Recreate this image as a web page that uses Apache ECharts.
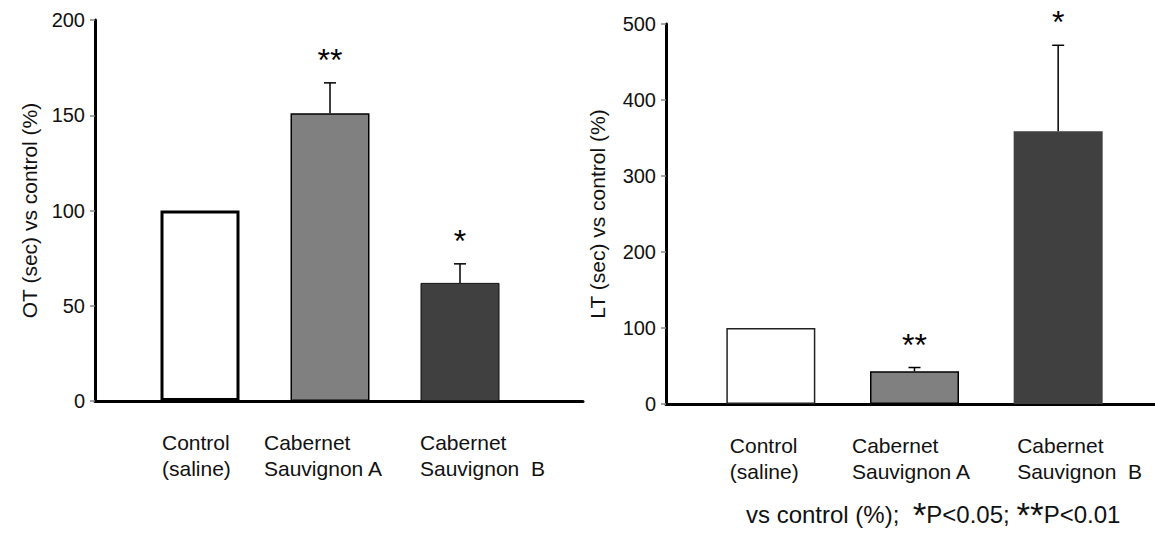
<!DOCTYPE html>
<html>
<head>
<meta charset="utf-8">
<script src="https://cdn.jsdelivr.net/npm/echarts@6/dist/echarts.min.js"></script>
<style>html,body{margin:0;padding:0;background:#fff;}#c{width:1155px;height:533px;}</style>
</head>
<body>
<div id="c"></div>
<script>
// ---- data ----
const categories = ['Control\n(saline)', 'Cabernet\nSauvignon A', 'Cabernet\nSauvignon  B'];
const otValues = [100, 151, 62];
const otErrors = [0, 16, 10];
const otSig = ['', '**', '*'];
const ltValues = [100, 43, 359];
const ltErrors = [0, 5, 113];
const ltSig = ['', '**', '*'];
const otTicks = {min: 0, max: 200, interval: 50};
const ltTicks = {min: 0, max: 500, interval: 100};
const otName = 'OT (sec) vs control (%)';
const ltName = 'LT (sec) vs control (%)';
const footnote = ['vs control (%);  ', '*', 'P<0.05; ', '**', 'P<0.01'];

// ---- styles ----
const FONT = 'Liberation Sans, Arial, sans-serif';
const fills = ['#ffffff', '#808080', '#404040'];
const leftBorders = [{c:'#000', w:3}, {c:'#000', w:1.5}, {c:'#111', w:1}];
const rightBorders = [{c:'#222', w:1.5}, {c:'#000', w:1.5}, {c:'#404040', w:0}];
const leftLabelW = [76, 132, 80];
const rightLabelW = [82, 125, 82];

function richFor(widths) {
  const r = {};
  widths.forEach((w, i) => { r['c' + i] = {width: w, align: 'left', fontSize: 21, fontFamily: FONT, color: '#111', lineHeight: 26}; });
  return r;
}
function fmt(val, idx) {
  return val.split('\n').map(s => '{c' + idx + '|' + s + '}').join('\n');
}

function axesPair(gridIdx, ticks, name, nameGap) {
  return {
    x: {gridIndex: gridIdx, type: 'value', min: 0, max: 1, axisLine: {show: true, onZero: false, lineStyle: {color: '#000', width: 3}},
        axisTick: {show: false}, axisLabel: {show: false}, splitLine: {show: false}},
    y: {gridIndex: gridIdx, type: 'value', min: ticks.min, max: ticks.max, interval: ticks.interval,
        axisLine: {show: true, lineStyle: {color: '#000', width: 3}},
        axisTick: {show: true, length: 5, lineStyle: {color: '#888', width: 1.5}},
        axisLabel: {fontSize: 20, fontFamily: FONT, color: '#111', margin: 10},
        splitLine: {show: false},
        name: name, nameLocation: 'middle', nameGap: nameGap, nameRotate: 90,
        nameTextStyle: {fontSize: 21, fontFamily: FONT, color: '#111'}}
  };
}
function barAxes(gridIdx, ticks, widths) {
  return {
    x: {gridIndex: gridIdx, type: 'category', data: categories, axisLine: {show: false}, axisTick: {show: false},
        axisLabel: {formatter: fmt, rich: richFor(widths), margin: 28, interval: 0}},
    y: {gridIndex: gridIdx, type: 'value', min: ticks.min, max: ticks.max, interval: ticks.interval, show: false}
  };
}

const la = axesPair(0, otTicks, otName, 55);
const lb = barAxes(1, otTicks, leftLabelW);
const ra = axesPair(2, ltTicks, ltName, 58);
const rb = barAxes(3, ltTicks, rightLabelW);

function barSeries(xi, values, borders, bw) {
  return {
    type: 'bar', xAxisIndex: xi, yAxisIndex: xi, barWidth: bw, z: 2,
    data: values.map((v, i) => ({value: v, itemStyle: {color: fills[i], borderColor: borders[i].c, borderWidth: borders[i].w}}))
  };
}
function errSeries(xi, values, errors, sig) {
  return {
    type: 'custom', xAxisIndex: xi, yAxisIndex: xi, z: 3,
    data: values.map((v, i) => [i, v, errors[i]]),
    renderItem: function (params, api) {
      const i = api.value(0), v = api.value(1), e = api.value(2);
      const s = sig[i];
      const p0 = api.coord([i, v]);
      const p1 = api.coord([i, v + e]);
      const children = [];
      if (e > 0) {
        children.push({type: 'line', shape: {x1: p0[0], y1: p0[1], x2: p1[0], y2: p1[1]}, style: {stroke: '#000', lineWidth: 1.5}});
        children.push({type: 'line', shape: {x1: p1[0] - 6, y1: p1[1], x2: p1[0] + 6, y2: p1[1]}, style: {stroke: '#000', lineWidth: 1.5}});
      }
      if (s) {
        children.push({type: 'text', x: p1[0], y: p1[1] - 23, style: {text: s, fontSize: 32, fontFamily: FONT, fill: '#000', align: 'center', verticalAlign: 'middle'}});
      }
      return {type: 'group', children: children};
    }
  };
}

const option = {
  animation: false,
  backgroundColor: '#fff',
  grid: [
    {left: 95, top: 20, width: 488, height: 381},
    {left: 135, top: 20, width: 390, height: 381},
    {left: 666, top: 24, width: 489, height: 380},
    {left: 699, top: 24, width: 431, height: 380}
  ],
  xAxis: [la.x, lb.x, ra.x, rb.x],
  yAxis: [la.y, lb.y, ra.y, rb.y],
  title: {
    left: 746, top: 495, padding: 0,
    text: '{t|' + footnote[0] + '}{s|' + footnote[1] + '}{t|' + footnote[2] + '}{s|' + footnote[3] + '}{t|' + footnote[4] + '}',
    textStyle: {fontWeight: 'normal', rich: {
      t: {fontSize: 24, fontFamily: FONT, color: '#111', fontWeight: 'normal', lineHeight: 38},
      s: {fontSize: 35, fontFamily: FONT, color: '#111', fontWeight: 'normal', lineHeight: 38}
    }}
  },
  series: [
    barSeries(1, otValues, leftBorders, 79),
    errSeries(1, otValues, otErrors, otSig),
    barSeries(3, ltValues, rightBorders, 89),
    errSeries(3, ltValues, ltErrors, ltSig)
  ]
};
const chart = echarts.init(document.getElementById('c'), null, {renderer: 'svg'});
chart.setOption(option);
</script>
</body>
</html>
